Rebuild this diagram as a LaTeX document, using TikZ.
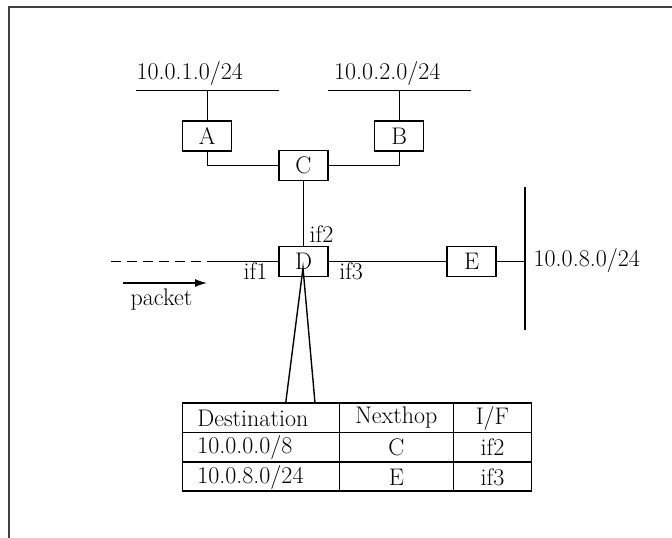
\documentclass[tikz,border=0pt]{standalone}
\usetikzlibrary{arrows.meta}
\newcommand\diafont{\fontsize{24}{28}\selectfont}
\begin{document}
\begin{tikzpicture}[x=1pt,y=-1pt,line width=1.4pt,
  box/.style={draw,minimum width=49pt,minimum height=30pt,inner sep=0pt,font=\diafont},
  lbl/.style={inner sep=0pt,anchor=west,font=\diafont},
  cell/.style={inner sep=0pt,font=\diafont}]
\useasboundingbox (0,0) rectangle (672,538);
% frame
\draw[line width=1.8pt,black!75] (9,538) -- (9,7) -- (672,7);
% networks
\coordinate (n1l) at (136,90.7);
\coordinate (n1r) at (279,90.7);
\coordinate (n2l) at (328,90.7);
\coordinate (n2r) at (471,90.7);
\draw (n1l) -- (n1r);
\draw (n2l) -- (n2r);
\node[lbl] (l1) at (136,73) {10.0.1.0/24};
\node[lbl] (l2) at (333.5,73) {10.0.2.0/24};
% routers
\node[box] (A) at (207.2,136) {A};
\node[box] (B) at (399.2,136) {B};
\node[box] (C) at (303.5,165.7) {C};
\node[box] (D) at (303.5,261.7) {D};
\node[box] (E) at (471.6,261.7) {E};
\draw (A.north |- n1l) -- (A.north);
\draw (B.north |- n2l) -- (B.north);
\draw (A.south) |- (C.west);
\draw (B.south) |- (C.east);
\draw (C.south) -- (D.north);
% left link
\coordinate (dl) at (111,261.7);
\coordinate (ds) at (207,261.7);
\draw[dash pattern=on 10pt off 6pt] (dl) -- (ds);
\draw (ds) -- (D.west);
\draw (D.east) -- (E.west);
% network 10.0.8.0/24
\coordinate (vt) at (525,187.3);
\coordinate (vb) at (525,330);
\draw (vt) -- (vb);
\draw (E.east) -- (E.east -| vt);
\node[lbl] (l3) at (533,260) {10.0.8.0/24};
% interface labels
\node[lbl] (if1) at (243,271) {if1};
\node[lbl] (if2) at (309,234) {if2};
\node[lbl] (if3) at (338.6,271) {if3};
% packet arrow
\coordinate (pa) at (123,283);
\coordinate (pb) at (207,283);
\draw[-{Latex[length=12pt,width=8pt]}] (pa) -- (pb);
\node[lbl] (pk) at (130,300) {packet};
% callout
\coordinate (dt) at (303,268);
\coordinate (tl) at (285.7,403);
\coordinate (tr) at (315,403);
\draw (tl) -- (dt) -- (tr);
% table
\draw (182.7,403) rectangle (531.7,491);
\draw (182.7,432.5) -- (531.7,432.5);
\draw (182.7,462) -- (531.7,462);
\draw (339.3,403) -- (339.3,491);
\draw (453.3,403) -- (453.3,491);
\node[lbl] (t11) at (196.7,418) {Destination};
\node[cell] (t12) at (396.3,418) {Nexthop};
\node[cell] (t13) at (492.5,418) {I/F};
\node[lbl] (t21) at (196.7,447.5) {10.0.0.0/8};
\node[cell] (t22) at (396.3,447.5) {C};
\node[cell] (t23) at (492.5,447.5) {if2};
\node[lbl] (t31) at (196.7,477) {10.0.8.0/24};
\node[cell] (t32) at (396.3,477) {E};
\node[cell] (t33) at (492.5,477) {if3};
\end{tikzpicture}
\end{document}
